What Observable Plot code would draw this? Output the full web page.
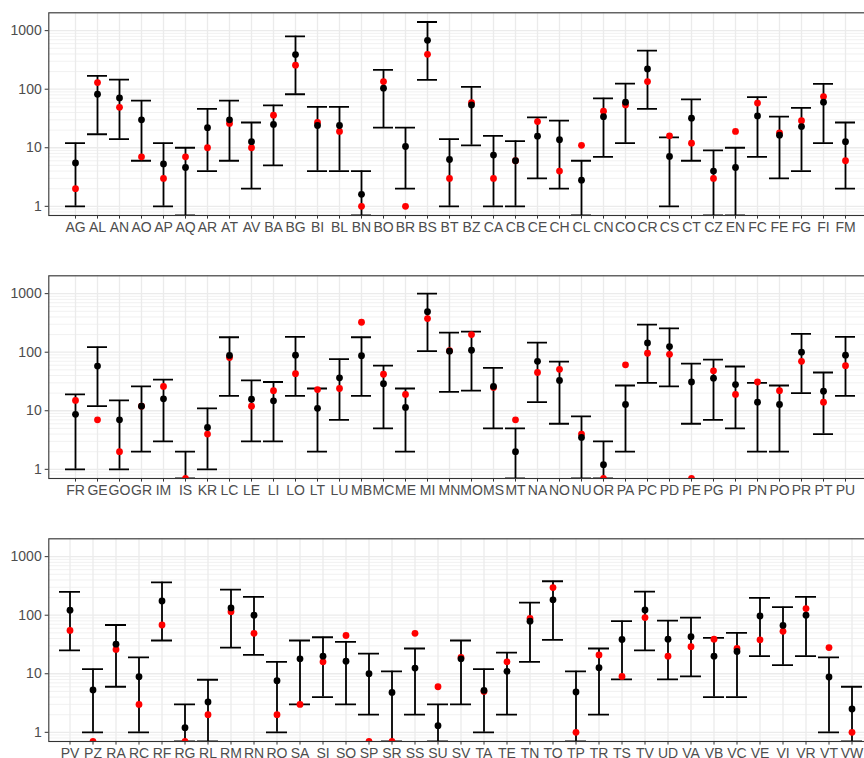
<!DOCTYPE html>
<html>
<head>
<meta charset="utf-8">
<script src="https://cdn.jsdelivr.net/npm/d3@7"></script>
<script src="https://cdn.jsdelivr.net/npm/@observablehq/plot@0.6"></script>
<style>
  html, body { margin: 0; padding: 0; background: #fff; overflow: hidden; }
  #chart { width: 880px; }
  #chart svg { display: block; max-width: none !important; width: 880px !important; height: 263px !important; }
</style>
</head>
<body>
<div id="chart"></div>
<script>
// ---- Data ----
const cats1 = ["AG","AL","AN","AO","AP","AQ","AR","AT","AV","BA","BG","BI","BL","BN","BO","BR","BS","BT","BZ","CA","CB","CE","CH","CL","CN","CO","CR","CS","CT","CZ","EN","FC","FE","FG","FI","FM"];
const mean1  = [5.5,82,71,30,5.3,4.6,22,30,12.7,25,390,24,24,1.6,104,10.5,684,6.3,54,7.5,6,15.8,13.7,2.8,34,60,222,7.1,32,4,4.6,35,16.4,23,60,12.7];
const lower1 = [1,17,14,6,1,0,4,6,2,5,82,4,4,0,22,2,144,1,11,1,1,3,2,0,7,12,46,1,6,0,0,7,3,4,12,2];
const upper1 = [12,169,146,64,12,10,46,64,27,53,800,50,50,4,214,22,1406,14,110,16,13,33,29,6,70,125,456,15,67,9,10,73,34,48,123,27];
const red1   = [2,130,49,7,3,7,10,26,10,36,257,27,19,1,135,1,395,3,59,3,6,28,4,11,42,54,135,16,12,3,19,58,18,29,75,6];

const cats2 = ["FR","GE","GO","GR","IM","IS","KR","LC","LE","LI","LO","LT","LU","MB","MC","ME","MI","MN","MO","MS","MT","NA","NO","NU","OR","PA","PC","PD","PE","PG","PI","PN","PO","PR","PT","PU"];
const mean2  = [8.7,58,7,12,16,null,5.2,88,15.8,14.8,89,11,36.5,87,29,11.4,493,104,108,26,2,70,33,3.5,1.2,12.8,144,125,31,36,28,14,12.8,100,21.6,89];
const lower2 = [1,12,1,2,3,0,1,18,3,3,18,2,7,18,5,2,104,21,22,5,0,14,6,0,0,2,30,26,6,7,5,2,2,20,4,18];
const upper2 = [19,122,15,26,34,2,11,180,33,31,183,24,76,180,59,24,1000,216,225,54,5,146,69,8,3,27,297,256,64,75,57,30,27,205,45,183];
const red2   = [15,7,2,12,26,0,4,81,12,22,43,23,24,325,42,19,375,106,200,25,7,45,51,4,0,61,96,92,0,48,19,31,22,70,14,59];

const cats3 = ["PV","PZ","RA","RC","RF","RG","RL","RM","RN","RO","SA","SI","SO","SP","SR","SS","SU","SV","TA","TE","TN","TO","TP","TR","TS","TV","UD","VA","VB","VC","VE","VI","VR","VT","VW"];
const mean3  = [122,5.3,32,8.9,175,1.2,3.3,133,100,7.6,18,20,16.4,10,4.8,12.5,1.3,18,5.2,11,79,183,4.9,12.7,38.5,123,39,43,20,24,97,67,100,8.8,2.5];
const lower3 = [25,1,6,1,37,0,0,28,21,1,3,4,3,2,0,2,0,3,1,2,16,38,0,2,8,25,8,9,4,4,20,14,20,1,0];
const upper3 = [250,12,68,19,365,3,7.9,274,205,16,37,42,35,22,11,27,3,37,12,23,164,380,11,27,79,253,81,91,41,50,197,137,205,19,6];
const red3   = [55,0,26,3,68,0,2,115,49,2,3,16,45,0,0,49,6,19,5,16,88,296,1,21,9,91,20,29,39,27,38,53,130,28,1];

const yTicks = [1, 10, 100, 1000];

// ---- Chart ----
const yDomain = [0.697, 2018];
const minorBreaks = [];
for (const p of [0.1, 1, 10, 100, 1000]) for (let k = 2; k <= 9; k++) {
  const v = k * p;
  if (v > yDomain[0] && v < yDomain[1]) minorBreaks.push(v);
}
const fix = v => (v == null ? NaN : Math.max(v, yDomain[0]));

function panel(cats, mean, lower, upper, red) {
  const rows = cats.map((c, i) => ({cat: c, mean: mean[i], lower: lower[i], upper: upper[i], red: red[i]}));
  const lw = 1.8;
  return Plot.plot({
    width: 880,
    height: 263,
    marginTop: 12.3,
    marginBottom: 48,
    marginLeft: 48.3,
    marginRight: 8.5,
    style: {fontFamily: "'Liberation Sans', Arial, sans-serif", fontSize: "14px", color: "#4D4D4D", background: "#fff"},
    x: {type: "band", domain: cats, paddingInner: 0.1, paddingOuter: 0.15},
    y: {type: "log", domain: yDomain},
    marks: [
      Plot.ruleY(minorBreaks, {stroke: "#EBEBEB", strokeWidth: 0.7}),
      Plot.ruleY(yTicks, {stroke: "#EBEBEB", strokeWidth: 1.3}),
      Plot.ruleX(cats, {x: d => d, stroke: "#EBEBEB", strokeWidth: 1.3}),
      Plot.ruleX(rows, {x: "cat", y1: d => fix(d.lower), y2: d => fix(d.upper), stroke: "#000", strokeWidth: lw, clip: true}),
      Plot.tickY(rows, {x: "cat", y: d => fix(d.upper), stroke: "#000", strokeWidth: lw, clip: true}),
      Plot.tickY(rows, {x: "cat", y: d => fix(d.lower), stroke: "#000", strokeWidth: lw, clip: true}),
      Plot.dot(rows, {x: "cat", y: d => fix(d.red), r: 3.4, fill: "#FF0000", stroke: "none", clip: true}),
      Plot.dot(rows, {x: "cat", y: d => fix(d.mean), r: 3.4, fill: "#000", stroke: "none", clip: true}),
      Plot.frame({stroke: "#333333", strokeWidth: 1.1}),
      Plot.axisX({tickSize: 3.6, tickPadding: 2.5, label: null, stroke: "#333333", fill: "#4D4D4D"}),
      Plot.axisY({ticks: yTicks, tickFormat: d => String(d), tickSize: 3.6, tickPadding: 3.5, label: null, stroke: "#333333", fill: "#4D4D4D"})
    ]
  });
}

const root = document.getElementById("chart");
root.append(panel(cats1, mean1, lower1, upper1, red1));
root.append(panel(cats2, mean2, lower2, upper2, red2));
root.append(panel(cats3, mean3, lower3, upper3, red3));
</script>
</body>
</html>
